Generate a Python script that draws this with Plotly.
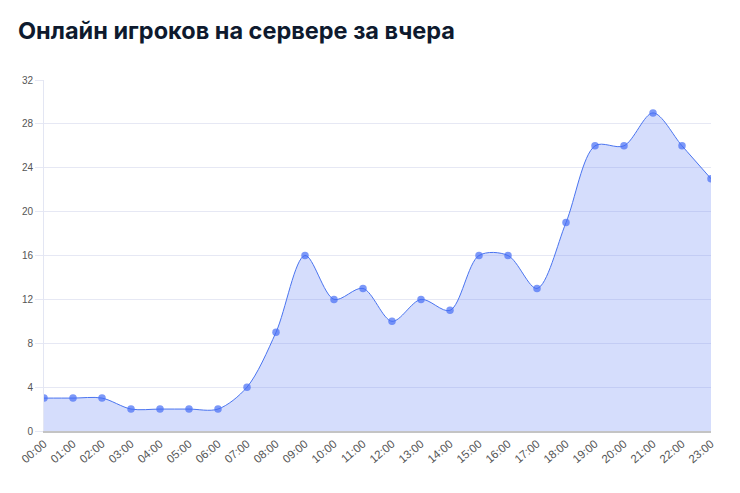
import plotly.graph_objects as go

# online players per hour, yesterday
hours = [f"{h:02d}:00" for h in range(24)]
players = [3, 3, 3, 2, 2, 2, 2, 4, 9, 16, 12, 13, 10, 12, 11, 16, 16, 13, 19, 26, 26, 29, 26, 23]
y_ticks = list(range(0, 33, 4))

# page body has an 8px margin, so the figure is a bit smaller than the window
W, H = 732, 477

fig = go.Figure()
fig.add_trace(go.Scatter(
    x=hours, y=players,
    mode="lines+markers",
    line=dict(color="#4a74f0", width=1, shape="spline", smoothing=0.9),
    marker=dict(size=7.5, color="rgba(70,110,245,0.7)"),
    fill="tozeroy", fillcolor="rgba(98,130,245,0.27)",
    hoverinfo="x+y", showlegend=False,
))

# light border on the right edge of the card
fig.add_shape(type="line", xref="paper", yref="paper",
              x0=1.041, x1=1.041, y0=-0.2, y1=1.2,
              line=dict(color="#cfd2da", width=1.5))

fig.update_layout(
    width=W, height=H,
    margin=dict(l=36, r=29, t=72, b=54),
    paper_bgcolor="white", plot_bgcolor="white",
    title=dict(text="<b>Онлайн игроков на сервере за вчера</b>",
               x=10 / W, xanchor="left", y=1 - 23 / H, yanchor="middle",
               font=dict(family="Inter, Noto Sans, sans-serif", size=23.5, color="#0e1a2e")),
    font=dict(family="Liberation Sans, Arial, sans-serif", size=10, color="#666666"),
    xaxis=dict(
        type="category", tickangle=-40, showgrid=False,
        showline=True, linecolor="#c4c4c4", linewidth=1.5,
        ticks="", range=[0, 23], zeroline=False,
        tickfont=dict(size=11.5, color="#555555"),
    ),
    yaxis=dict(
        range=[0, 32], tickvals=y_ticks,
        gridcolor="#e6e8f4", gridwidth=1,
        showline=True, linecolor="#e3e6f3",
        ticks="outside", ticklen=8, tickcolor="#e6e8f4",
        zeroline=False,
        tickfont=dict(size=10, color="#555555"),
    ),
)

fig.write_html("out.html")
